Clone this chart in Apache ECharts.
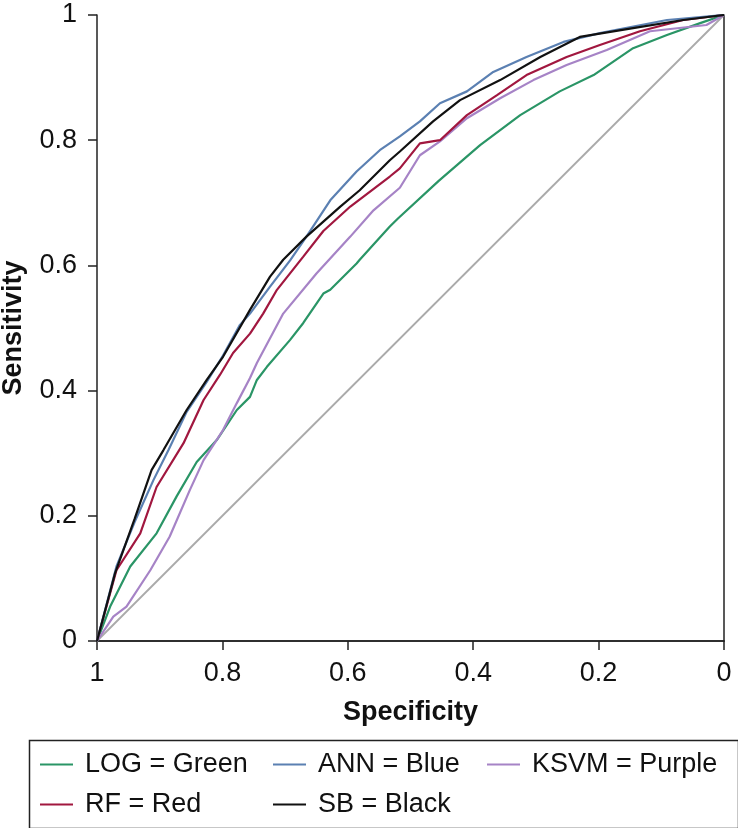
<!DOCTYPE html>
<html>
<head>
<meta charset="utf-8">
<script src="https://cdn.jsdelivr.net/npm/echarts@6/dist/echarts.min.js"></script>
<style>
html,body{margin:0;padding:0;background:#fff;}
#chart{width:738px;height:828px;}
</style>
</head>
<body>
<div id="chart"></div>
<script>
// Specificity (x, shown 1 -> 0) and sensitivity (y)
const logSpec = [1, 0.979, 0.947, 0.905, 0.873, 0.841, 0.809, 0.777, 0.756, 0.745, 0.729, 0.692, 0.671, 0.639, 0.628, 0.586, 0.581, 0.533, 0.520, 0.455, 0.389, 0.325, 0.262, 0.208, 0.145, 0.091, 0.038, 0];
const logSens = [0, 0.055, 0.119, 0.172, 0.231, 0.286, 0.321, 0.369, 0.390, 0.417, 0.438, 0.481, 0.508, 0.555, 0.561, 0.603, 0.609, 0.662, 0.675, 0.735, 0.792, 0.840, 0.878, 0.904, 0.947, 0.968, 0.987, 1];

const annSpec = [1, 0.969, 0.940, 0.910, 0.886, 0.857, 0.825, 0.799, 0.772, 0.756, 0.724, 0.692, 0.666, 0.628, 0.586, 0.549, 0.517, 0.485, 0.453, 0.410, 0.368, 0.315, 0.256, 0.198, 0.091, 0];
const annSens = [0, 0.119, 0.190, 0.257, 0.305, 0.366, 0.414, 0.456, 0.505, 0.523, 0.566, 0.608, 0.646, 0.704, 0.750, 0.784, 0.806, 0.830, 0.859, 0.878, 0.909, 0.933, 0.957, 0.971, 0.992, 1];

const ksvmSpec = [1, 0.974, 0.953, 0.915, 0.884, 0.852, 0.830, 0.799, 0.777, 0.756, 0.745, 0.703, 0.650, 0.596, 0.559, 0.517, 0.485, 0.453, 0.410, 0.357, 0.304, 0.251, 0.187, 0.118, 0.028, 0];
const ksvmSens = [0, 0.039, 0.055, 0.113, 0.167, 0.241, 0.289, 0.337, 0.380, 0.420, 0.444, 0.523, 0.587, 0.646, 0.688, 0.724, 0.776, 0.798, 0.835, 0.867, 0.896, 0.920, 0.944, 0.974, 0.984, 1];

const rfSpec = [1, 0.969, 0.931, 0.905, 0.862, 0.830, 0.804, 0.783, 0.756, 0.735, 0.713, 0.671, 0.639, 0.596, 0.533, 0.517, 0.485, 0.453, 0.410, 0.362, 0.315, 0.251, 0.198, 0.134, 0.065, 0];
const rfSens = [0, 0.113, 0.172, 0.246, 0.316, 0.385, 0.425, 0.460, 0.491, 0.523, 0.561, 0.614, 0.655, 0.694, 0.742, 0.755, 0.795, 0.800, 0.840, 0.872, 0.904, 0.933, 0.952, 0.974, 0.992, 1];

const sbSpec = [1, 0.971, 0.940, 0.913, 0.894, 0.857, 0.825, 0.799, 0.756, 0.724, 0.703, 0.666, 0.612, 0.581, 0.533, 0.517, 0.464, 0.421, 0.357, 0.293, 0.230, 0.145, 0.065, 0];
const sbSens = [0, 0.109, 0.195, 0.273, 0.305, 0.369, 0.417, 0.454, 0.529, 0.582, 0.609, 0.646, 0.694, 0.720, 0.768, 0.782, 0.830, 0.864, 0.896, 0.933, 0.965, 0.979, 0.992, 1];

const refSpec = [1, 0];
const refSens = [0, 1];

const names = ['LOG = Green', 'ANN = Blue', 'KSVM = Purple', 'RF = Red', 'SB = Black'];
const colors = {'LOG = Green': '#2a9566', 'ANN = Blue': '#5b80b2', 'KSVM = Purple': '#a683c6', 'RF = Red': '#a1173f', 'SB = Black': '#111111'};

function pairs(xs, ys) { return xs.map((x, i) => [x, ys[i]]); }

const chart = echarts.init(document.getElementById('chart'), null, {renderer: 'canvas'});
const FONT = 'Liberation Sans, Arial, Helvetica, sans-serif';

function lineSeries(name, xs, ys, z) {
  return {
    name: name, type: 'line', data: pairs(xs, ys), showSymbol: false, symbol: 'none',
    smooth: false, z: z, xAxisIndex: 0, yAxisIndex: 0,
    lineStyle: {color: colors[name], width: 2.2},
    itemStyle: {color: colors[name]},
    emphasis: {disabled: true}
  };
}

const legendCommon = {
  orient: 'vertical', top: 751, itemGap: 13, padding: 0,
  icon: 'rect', itemWidth: 33, itemHeight: 2,
  textStyle: {fontFamily: FONT, fontSize: 27, color: '#111', padding: [0, 0, 0, 7]},
  selectedMode: false
};

const frameAxis = {
  type: 'value', min: 0, max: 1, interval: 0.2,
  axisLine: {show: true, lineStyle: {color: '#222', width: 1.5}},
  axisTick: {show: false}, axisLabel: {show: false}, splitLine: {show: false}
};

chart.setOption({
  animation: false,
  backgroundColor: '#fff',
  grid: {left: 97, right: 14, top: 15, bottom: 187, outerBoundsMode: 'none', containLabel: false},
  xAxis: [{
    type: 'value', min: 0, max: 1, interval: 0.2, inverse: true, position: 'bottom',
    name: 'Specificity', nameLocation: 'middle', nameGap: 58,
    nameTextStyle: {fontFamily: FONT, fontSize: 27, fontWeight: 'bold', color: '#111'},
    axisLine: {show: true, onZero: false, lineStyle: {color: '#222', width: 1.5}},
    axisTick: {show: true, inside: false, length: 9, lineStyle: {color: '#222', width: 1.5}},
    axisLabel: {fontFamily: FONT, fontSize: 27, color: '#111', margin: 19},
    splitLine: {show: false}
  }, Object.assign({}, frameAxis, {position: 'top', inverse: true})],
  yAxis: [{
    type: 'value', min: 0, max: 1, interval: 0.2, position: 'left',
    name: 'Sensitivity', nameLocation: 'middle', nameGap: 70, nameRotate: 90,
    nameTextStyle: {fontFamily: FONT, fontSize: 27, fontWeight: 'bold', color: '#111'},
    axisLine: {show: true, onZero: false, lineStyle: {color: '#222', width: 1.5}},
    axisTick: {show: true, inside: false, length: 9, lineStyle: {color: '#222', width: 1.5}},
    axisLabel: {fontFamily: FONT, fontSize: 27, color: '#111', margin: 20},
    splitLine: {show: false}
  }, Object.assign({}, frameAxis, {position: 'right'})],
  legend: [
    Object.assign({}, legendCommon, {left: 40, data: ['LOG = Green', 'RF = Red']}),
    Object.assign({}, legendCommon, {left: 273, data: ['ANN = Blue', 'SB = Black']}),
    Object.assign({}, legendCommon, {left: 487, data: ['KSVM = Purple']})
  ],
  graphic: [{
    type: 'rect', left: 27, top: 738, z: 0,
    shape: {width: 709, height: 88},
    style: {fill: 'none', stroke: '#222', lineWidth: 1.5}
  }],
  series: [
    {name: 'ref', type: 'line', data: pairs(refSpec, refSens), showSymbol: false, symbol: 'none', z: 1,
     lineStyle: {color: '#aaaaaa', width: 1.8}, emphasis: {disabled: true}},
    lineSeries('LOG = Green', logSpec, logSens, 2),
    lineSeries('KSVM = Purple', ksvmSpec, ksvmSens, 3),
    lineSeries('RF = Red', rfSpec, rfSens, 4),
    lineSeries('ANN = Blue', annSpec, annSens, 5),
    lineSeries('SB = Black', sbSpec, sbSens, 6)
  ]
});
</script>
</body>
</html>
